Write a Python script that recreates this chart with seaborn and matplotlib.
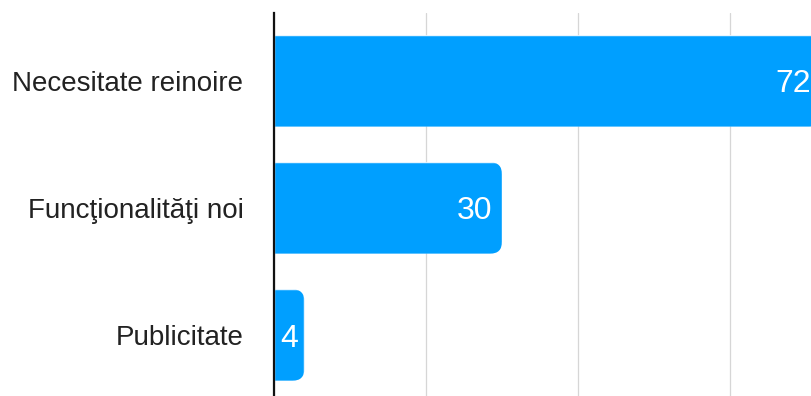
import matplotlib
matplotlib.use("Agg")
import matplotlib.pyplot as plt
from matplotlib.patches import FancyBboxPatch
from matplotlib.transforms import IdentityTransform
import seaborn as sns
import pandas as pd

categories = ["Necesitate reinoire", "Funcţionalităţi noi", "Publicitate"]
values = [72, 30, 4]
grid_ticks = [0, 20, 40, 60, 80]

BAR_COLOR = "#009FFF"
DPI = 100
W, H = 811, 396

sns.set_theme(style="white")
plt.rcParams["font.family"] = ["Liberation Sans", "DejaVu Sans"]

df = pd.DataFrame({"category": categories, "value": values})

fig = plt.figure(figsize=(W / DPI, H / DPI), dpi=DPI)
# plot area runs from the axis line past the right edge of the canvas
left_px, right_px, top_px, bottom_px = 274, 882, 13, 403
ax = fig.add_axes([left_px / W, 1 - bottom_px / H,
                   (right_px - left_px) / W, (bottom_px - top_px) / H])

sns.barplot(data=df, y="category", x="value", orient="h", color=BAR_COLOR,
            saturation=1, width=0.72, ax=ax, zorder=2)

ax.set_xlim(grid_ticks[0], grid_ticks[-1])
ax.set_ylim(2.535, -0.535)
ax.set_xticks(grid_ticks)
ax.set_xticklabels([])
ax.set_xlabel("")
ax.set_ylabel("")
ax.grid(axis="x", color="#d6d6d6", linewidth=0.9, zorder=0)
ax.grid(axis="y", visible=False)
ax.set_axisbelow(True)
for side in ["top", "right", "bottom"]:
    ax.spines[side].set_visible(False)
ax.spines["left"].set_color("#111111")
ax.spines["left"].set_linewidth(1.6)
ax.spines["left"].set_zorder(5)
ax.tick_params(axis="y", length=0, pad=22, labelsize=20, labelcolor="#222222")
ax.tick_params(axis="x", length=0)

# rounded right-hand corners on every bar
radius = 12
for bar in ax.patches:
    x0, y0 = ax.transData.transform((bar.get_x(), bar.get_y()))
    x1, y1 = ax.transData.transform((bar.get_x() + bar.get_width(),
                                     bar.get_y() + bar.get_height()))
    xa, xb = min(x0, x1), max(x0, x1)
    ya, yb = min(y0, y1), max(y0, y1)
    clip = FancyBboxPatch((xa - 3 * radius, ya), (xb - xa) + 3 * radius, yb - ya,
                          boxstyle=f"round,pad=0,rounding_size={radius}",
                          transform=IdentityTransform())
    bar.set_clip_path(clip)

# value labels inside the bar ends
for bar, v in zip(ax.patches, values):
    yc = bar.get_y() + bar.get_height() / 2
    end_px = ax.transData.transform((v, 0))[0] - ax.transData.transform((0, 0))[0]
    if end_px > 45:
        ax.annotate(str(v), xy=(v, yc), xytext=(-10, 0), textcoords="offset pixels",
                    ha="right", va="center_baseline", color="white", fontsize=23,
                    zorder=6)
    else:
        ax.annotate(str(v), xy=(v / 2, yc), xytext=(0, 0), textcoords="offset pixels",
                    ha="center", va="center_baseline", color="white", fontsize=23,
                    zorder=6)

fig.savefig("out.png", dpi=DPI)
